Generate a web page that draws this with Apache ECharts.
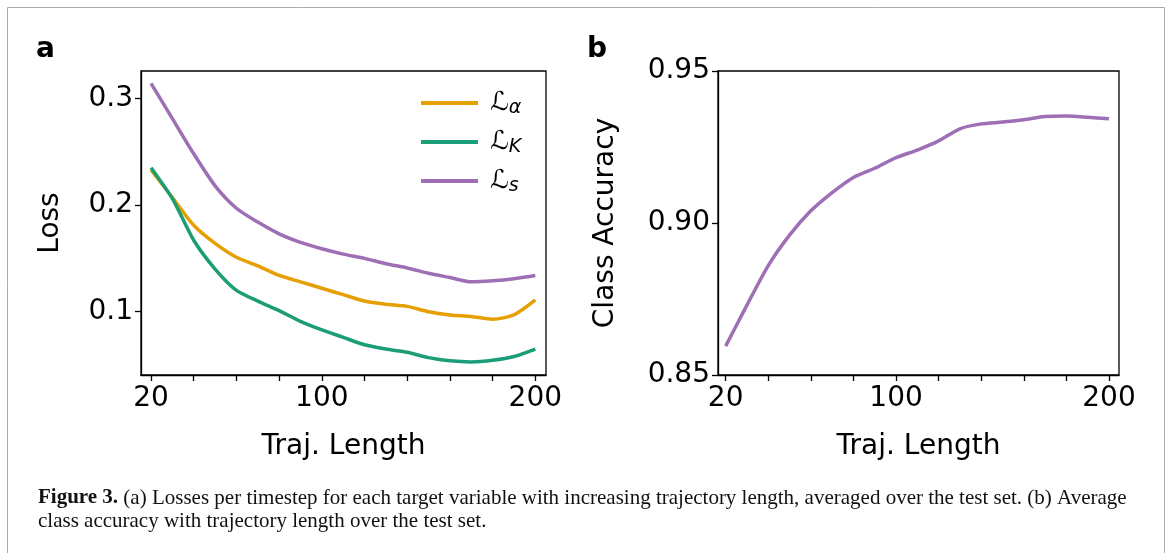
<!DOCTYPE html>
<html>
<head>
<meta charset="utf-8">
<script src="https://cdn.jsdelivr.net/npm/echarts@6/dist/echarts.min.js"></script>
<style>
  html, body { margin: 0; padding: 0; background: #fff; }
  #chart { width: 1171px; height: 553px; }
</style>
</head>
<body>
<div id="chart"></div>
<script>
// trajectory lengths sampled along the x axis
var lengths = [20, 30, 40, 50, 60, 70, 80, 90, 100, 110, 120, 130, 140, 150, 160, 170, 180, 190, 200];

// panel a: losses per timestep
var lossAlpha = [0.233, 0.207, 0.181, 0.164, 0.151, 0.143, 0.134, 0.128, 0.122, 0.116, 0.110, 0.107, 0.105, 0.100, 0.097, 0.0955, 0.093, 0.097, 0.111];
var lossK = [0.235, 0.206, 0.167, 0.140, 0.120, 0.110, 0.101, 0.091, 0.083, 0.076, 0.069, 0.065, 0.062, 0.057, 0.054, 0.053, 0.0545, 0.058, 0.065];
var lossS = [0.314, 0.281, 0.248, 0.218, 0.197, 0.184, 0.173, 0.165, 0.159, 0.154, 0.150, 0.145, 0.141, 0.136, 0.132, 0.128, 0.129, 0.131, 0.134];

// panel b: class accuracy
var accuracy = [0.8595, 0.873, 0.886, 0.896, 0.904, 0.910, 0.915, 0.918, 0.9215, 0.924, 0.927, 0.931, 0.9326, 0.9332, 0.934, 0.935, 0.9352, 0.9348, 0.9343];

// ticks and labels
var xTicks = [20, 40, 60, 80, 100, 120, 140, 160, 180, 200];
var xLabels = [20, 100, 200];
var lossTicks = [0.1, 0.2, 0.3];
var accTicks = [0.85, 0.90, 0.95];

var FONT = 'DejaVu Sans';
var INK = '#000';

function pairs(ys) {
    return lengths.map(function (x, i) { return [x, ys[i]]; });
}

function xAxisFor(gridIndex, min, max) {
    return {
        type: 'value',
        gridIndex: gridIndex,
        min: min,
        max: max,
        name: 'Traj. Length',
        nameLocation: 'middle',
        nameGap: 58,
        nameTextStyle: { fontFamily: FONT, fontSize: 28, color: INK },
        axisLine: { show: true, lineStyle: { color: INK, width: 1.3 } },
        axisTick: { show: true, length: 6, customValues: xTicks, lineStyle: { color: INK, width: 1.3 } },
        axisLabel: { customValues: xLabels, margin: 10, fontFamily: FONT, fontSize: 28, color: INK },
        splitLine: { show: false }
    };
}

function yAxisFor(gridIndex, min, max, ticks, name, gap, digits) {
    return {
        type: 'value',
        gridIndex: gridIndex,
        min: min,
        max: max,
        name: name,
        nameLocation: 'middle',
        nameGap: gap,
        nameTextStyle: { fontFamily: FONT, fontSize: 28, color: INK },
        axisLine: { show: true, lineStyle: { color: INK, width: 1.3 } },
        axisTick: { show: true, length: 6, customValues: ticks, lineStyle: { color: INK, width: 1.3 } },
        axisLabel: {
            customValues: ticks, margin: 8, fontFamily: FONT, fontSize: 28, color: INK,
            formatter: function (v) { return v.toFixed(digits); }
        },
        splitLine: { show: false }
    };
}

var legendNames = {
    La: '{l|ℒ}{s|α}',
    LK: '{l|ℒ}{s|K}',
    Ls: '{l|ℒ}{s|s}'
};

function legendAt(name, top) {
    return {
        data: [name],
        left: 421,
        top: top,
        padding: 0,
        icon: 'rect',
        itemWidth: 57,
        itemHeight: 4,
        selectedMode: false,
        formatter: function (n) { return legendNames[n]; },
        textStyle: {
            rich: {
                l: { fontFamily: FONT, fontSize: 26, lineHeight: 30, padding: [0, 0, 0, 7], color: INK },
                s: { fontFamily: FONT, fontStyle: 'italic', fontSize: 19, lineHeight: 10, verticalAlign: 'bottom', color: INK }
            }
        }
    };
}

function lineSeries(name, ys, color, xi, yi) {
    return {
        name: name,
        type: 'line',
        xAxisIndex: xi,
        yAxisIndex: yi,
        data: pairs(ys),
        symbol: 'none',
        smooth: 0.25,
        itemStyle: { color: color },
        lineStyle: { color: color, width: 3.5 }
    };
}

var chart = echarts.init(document.getElementById('chart'));

chart.setOption({
    animation: false,
    backgroundColor: '#fff',
    grid: [
        { left: 141, top: 71, width: 405, height: 304, show: true, borderColor: INK, borderWidth: 1.3 },
        { left: 718, top: 71, width: 401, height: 304, show: true, borderColor: INK, borderWidth: 1.3 }
    ],
    xAxis: [xAxisFor(0, 15.3, 205), xAxisFor(1, 16.4, 204.7)],
    yAxis: [
        yAxisFor(0, 0.0407, 0.3256, lossTicks, 'Loss', 76, 1),
        yAxisFor(1, 0.85, 0.95, accTicks, 'Class Accuracy', 98, 2)
    ],
    legend: [legendAt('La', 90), legendAt('LK', 129), legendAt('Ls', 168)],
    series: [
        lineSeries('La', lossAlpha, '#E69F00', 0, 0),
        lineSeries('LK', lossK, '#1B9E77', 0, 0),
        lineSeries('Ls', lossS, '#9F6FB5', 0, 0),
        lineSeries('acc', accuracy, '#9F6FB5', 1, 1)
    ],
    graphic: [
        {
            type: 'rect', z: -10, silent: true,
            shape: { x: 7.5, y: 7.5, width: 1157, height: 570 },
            style: { fill: 'none', stroke: '#ababab', lineWidth: 1 }
        },
        {
            type: 'text', silent: true,
            style: { x: 36, y: 64, text: 'a', fontFamily: FONT, fontWeight: 'bold', fontSize: 28, fill: INK, verticalAlign: 'bottom' }
        },
        {
            type: 'text', silent: true,
            style: { x: 587, y: 64, text: 'b', fontFamily: FONT, fontWeight: 'bold', fontSize: 28, fill: INK, verticalAlign: 'bottom' }
        },
        {
            type: 'text', silent: true,
            style: {
                x: 38, y: 498, verticalAlign: 'middle',
                text: '{b|Figure 3.} (a) Losses per timestep for each target variable with increasing trajectory length, averaged over the test set. (b) Average',
                fontFamily: 'Liberation Serif', fontSize: 21, fill: '#111',
                rich: { b: { fontFamily: 'Liberation Serif', fontSize: 21, fontWeight: 'bold', fill: '#111' } }
            }
        },
        {
            type: 'text', silent: true,
            style: {
                x: 38, y: 521, verticalAlign: 'middle',
                text: 'class accuracy with trajectory length over the test set.',
                fontFamily: 'Liberation Serif', fontSize: 21, fill: '#111'
            }
        }
    ]
});
</script>
</body>
</html>
